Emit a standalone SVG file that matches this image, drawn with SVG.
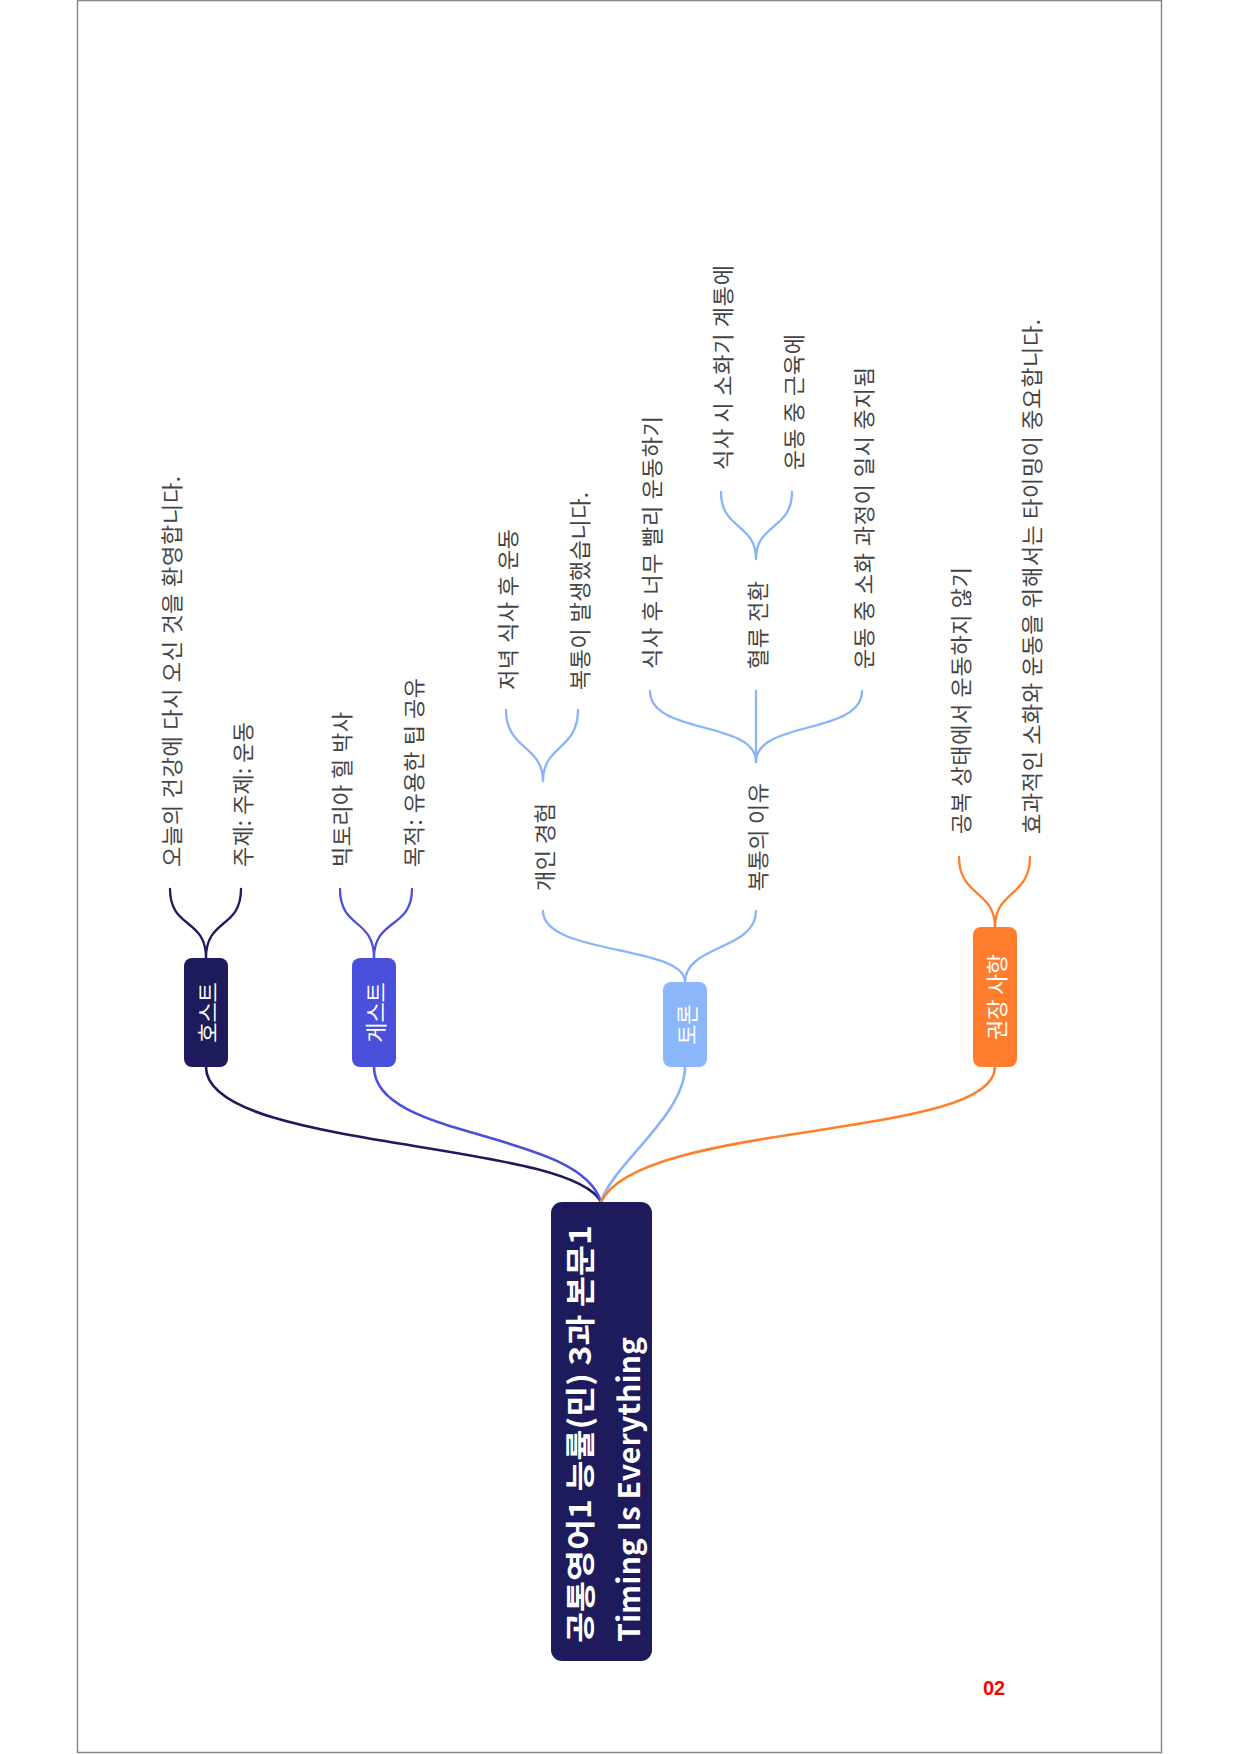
<svg xmlns="http://www.w3.org/2000/svg" width="1240" height="1754" viewBox="0 0 1240 1754">
<style>
.leaf{font-family:"Noto Sans CJK KR","Noto Sans",sans-serif;font-size:22px;fill:#444444;dominant-baseline:central}
.lbl{font-family:"Noto Sans CJK KR","Noto Sans",sans-serif;font-size:22px;fill:#ffffff;text-anchor:middle;dominant-baseline:central}
.root{font-family:"Noto Sans CJK KR","Open Sans",sans-serif;font-size:30px;font-weight:bold;fill:#ffffff}
.c{fill:none;stroke-linecap:round}
.navy{stroke:#1d1b5b}
.violet{stroke:#4b50dc}
.sky{stroke:#8ab4f8}
.orange{stroke:#ff7f2a}
.main{stroke-width:2.6}
.sub{stroke-width:2.3}
</style>
<rect x="77.5" y="0.5" width="1084" height="1752" fill="#ffffff" stroke="#888888" stroke-width="1.5"/>
<g id="connectors">
<path class="c navy main" d="M601 1202 C570 1140 206 1150 206 1067"/>
<path class="c violet main" d="M601 1202 C580 1130 374 1140 374 1067"/>
<path class="c sky main" d="M601 1202 C612 1165 685 1115 685 1067"/>
<path class="c orange main" d="M601 1202 C640 1120 995 1140 995 1067"/>
<path class="c navy sub" d="M206 958 C206 918 170 929 170 889"/>
<path class="c navy sub" d="M206 958 C206 918 241 929 241 889"/>
<path class="c violet sub" d="M374 958 C374 918 340 929 340 889"/>
<path class="c violet sub" d="M374 958 C374 918 412 929 412 889"/>
<path class="c sky sub" d="M685 982 C685 945 543 955 543 911"/>
<path class="c sky sub" d="M685 982 C685 945 756 950 756 911"/>
<path class="c sky sub" d="M543 781 C543 745 506 750 506 710"/>
<path class="c sky sub" d="M543 781 C543 745 578 750 578 710"/>
<path class="c sky sub" d="M756 762 C756 720 650 735 650 691"/>
<path class="c sky sub" d="M756 762 L756 691"/>
<path class="c sky sub" d="M756 762 C756 720 862 735 862 691"/>
<path class="c sky sub" d="M756 559 C756 523 721 530 721 492"/>
<path class="c sky sub" d="M756 559 C756 523 792 530 792 492"/>
<path class="c orange sub" d="M995 927 C995 890 959 897 959 857"/>
<path class="c orange sub" d="M995 927 C995 890 1030 897 1030 857"/>
</g>
<g id="root">
<rect x="551" y="1202" width="101" height="459" rx="11" fill="#1d1b5b"/>
<text class="root" transform="translate(591,1643) rotate(-90)" textLength="418" lengthAdjust="spacingAndGlyphs">공통영어1 능률(민) 3과 본문1</text>
<text class="root" transform="translate(640,1642) rotate(-90)" textLength="305" lengthAdjust="spacingAndGlyphs">Timing Is Everything</text>
</g>
<g id="host">
<rect x="184" y="958" width="44" height="109" rx="8" fill="#1d1b5b"/>
<text class="lbl" transform="translate(206,1012.5) rotate(-90)">호스트</text>
</g>
<g id="guest">
<rect x="352" y="958" width="44" height="109" rx="8" fill="#4b50dc"/>
<text class="lbl" transform="translate(374,1012.5) rotate(-90)">게스트</text>
</g>
<g id="discussion">
<rect x="663" y="982" width="44" height="85" rx="8" fill="#8bb6fa"/>
<text class="lbl" transform="translate(685,1024.5) rotate(-90)">토론</text>
</g>
<g id="recommend">
<rect x="973" y="927" width="44" height="140" rx="8" fill="#ff7e2e"/>
<text class="lbl" transform="translate(995,997) rotate(-90)">권장 사항</text>
</g>
<g id="host-leaf1"><text class="leaf" transform="translate(170,867) rotate(-90)" textLength="391">오늘의 건강에 다시 오신 것을 환영합니다.</text></g>
<g id="host-leaf2"><text class="leaf" transform="translate(241,867) rotate(-90)" textLength="145">주제: 주제: 운동</text></g>
<g id="guest-leaf1"><text class="leaf" transform="translate(340,867) rotate(-90)" textLength="155">빅토리아 힐 박사</text></g>
<g id="guest-leaf2"><text class="leaf" transform="translate(412,867) rotate(-90)" textLength="189">목적: 유용한 팁 공유</text></g>
<g id="experience"><text class="leaf" transform="translate(543,891) rotate(-90)" textLength="88">개인 경험</text></g>
<g id="exp-leaf1"><text class="leaf" transform="translate(506,690) rotate(-90)" textLength="161">저녁 식사 후 운동</text></g>
<g id="exp-leaf2"><text class="leaf" transform="translate(578,690) rotate(-90)" textLength="198">복통이 발생했습니다.</text></g>
<g id="reason"><text class="leaf" transform="translate(756,891) rotate(-90)" textLength="108">복통의 이유</text></g>
<g id="reason-leaf1"><text class="leaf" transform="translate(650,669) rotate(-90)" textLength="253">식사 후 너무 빨리 운동하기</text></g>
<g id="bloodflow"><text class="leaf" transform="translate(756,669) rotate(-90)" textLength="88">혈류 전환</text></g>
<g id="reason-leaf3"><text class="leaf" transform="translate(862,669) rotate(-90)" textLength="302">운동 중 소화 과정이 일시 중지됨</text></g>
<g id="blood-leaf1"><text class="leaf" transform="translate(721,470) rotate(-90)" textLength="205">식사 시 소화기 계통에</text></g>
<g id="blood-leaf2"><text class="leaf" transform="translate(792,470) rotate(-90)" textLength="136">운동 중 근육에</text></g>
<g id="rec-leaf1"><text class="leaf" transform="translate(959,834) rotate(-90)" textLength="267">공복 상태에서 운동하지 않기</text></g>
<g id="rec-leaf2"><text class="leaf" transform="translate(1030,834) rotate(-90)" textLength="515">효과적인 소화와 운동을 위해서는 타이밍이 중요합니다.</text></g>
<text x="994" y="1695" text-anchor="middle" font-family="Liberation Sans, Arial, sans-serif" font-size="20" font-weight="bold" fill="#ff0000">02</text>
</svg>
